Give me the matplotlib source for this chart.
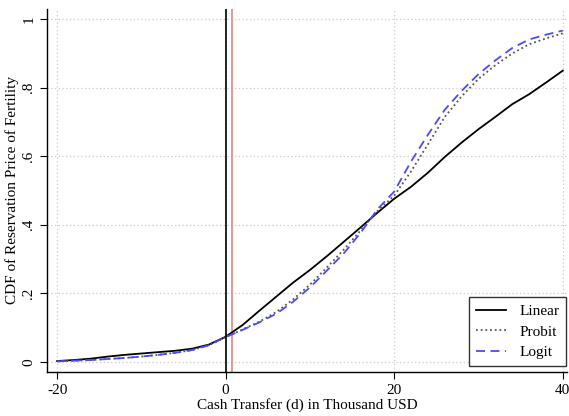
import matplotlib.pyplot as plt

plt.rcParams['font.family'] = ['Liberation Serif', 'DejaVu Serif']
plt.rcParams['axes.unicode_minus'] = False

# cash transfer grid (thousand USD)
d = [-20, -18, -16, -14, -12, -10, -8, -6, -4, -2, 0, 2, 4, 6, 8, 10,
     12, 14, 16, 18, 20, 22, 24, 26, 28, 30, 32, 34, 36, 38, 40]

cdf_linear = [0.002, 0.005, 0.009, 0.015, 0.020, 0.024, 0.028, 0.032, 0.038, 0.050,
              0.073, 0.107, 0.149, 0.190, 0.231, 0.268, 0.308, 0.350, 0.392, 0.435,
              0.476, 0.511, 0.552, 0.598, 0.640, 0.679, 0.715, 0.752, 0.781, 0.815, 0.850]
cdf_probit = [0.001, 0.003, 0.005, 0.008, 0.011, 0.015, 0.020, 0.026, 0.034, 0.048,
              0.072, 0.094, 0.117, 0.145, 0.182, 0.225, 0.275, 0.327, 0.383, 0.440,
              0.485, 0.556, 0.635, 0.715, 0.775, 0.826, 0.866, 0.900, 0.927, 0.944, 0.959]
cdf_logit = [0.001, 0.003, 0.005, 0.008, 0.011, 0.015, 0.020, 0.026, 0.034, 0.048,
             0.072, 0.093, 0.115, 0.140, 0.175, 0.217, 0.266, 0.316, 0.376, 0.445,
             0.497, 0.585, 0.663, 0.736, 0.791, 0.840, 0.880, 0.916, 0.941, 0.955, 0.967]

red_line = 0.75
xticks = [-20, 0, 20, 40]
yticks = [0, 0.2, 0.4, 0.6, 0.8, 1]
ytick_labels = ['0', '.2', '.4', '.6', '.8', '1']

fig = plt.figure(figsize=(5.69, 4.16), dpi=100)
ax = fig.add_axes([47 / 569, 44 / 416, 520 / 569, 363 / 416])

ax.plot(d, cdf_linear, color='black', lw=1.3, label='Linear', zorder=3)
ax.plot(d, cdf_probit, color='#555555', lw=1.3, ls=(0, (1, 1.6)), label='Probit', zorder=3)
ax.plot(d, cdf_logit, color='#4a4aff', lw=1.3, ls=(0, (5, 3)), label='Logit', zorder=4)

ax.axvline(0, color='black', lw=1.2, zorder=2)
ax.axvline(red_line, color='#f08080', lw=1.2, zorder=2)

ax.set_xlim(-21.2, 40.5)
ax.set_ylim(-0.03, 1.03)
ax.set_xticks(xticks)
ax.set_yticks(yticks)
ax.set_yticklabels(ytick_labels, rotation=90, va='center')
ax.tick_params(labelsize=11, length=5, width=0.8, colors='black')
ax.grid(True, color='#cccccc', ls=(0, (1, 2)), lw=0.9, zorder=0)

for s in ['top', 'right']:
    ax.spines[s].set_visible(False)
for s in ['left', 'bottom']:
    ax.spines[s].set_linewidth(1.0)

ax.set_xlabel('Cash Transfer (d) in Thousand USD', fontsize=11, labelpad=1)
ax.set_ylabel('CDF of Reservation Price of Fertility', fontsize=11, labelpad=2)

leg = ax.legend(loc='lower right', bbox_to_anchor=(0.998, 0.0165), borderaxespad=0,
                fontsize=11, fancybox=False, edgecolor='#333333', framealpha=1,
                handlelength=2.0, handletextpad=0.85, borderpad=0.45, labelspacing=0.45)
leg.get_frame().set_linewidth(1.0)

fig.savefig('out.png', dpi=100)
